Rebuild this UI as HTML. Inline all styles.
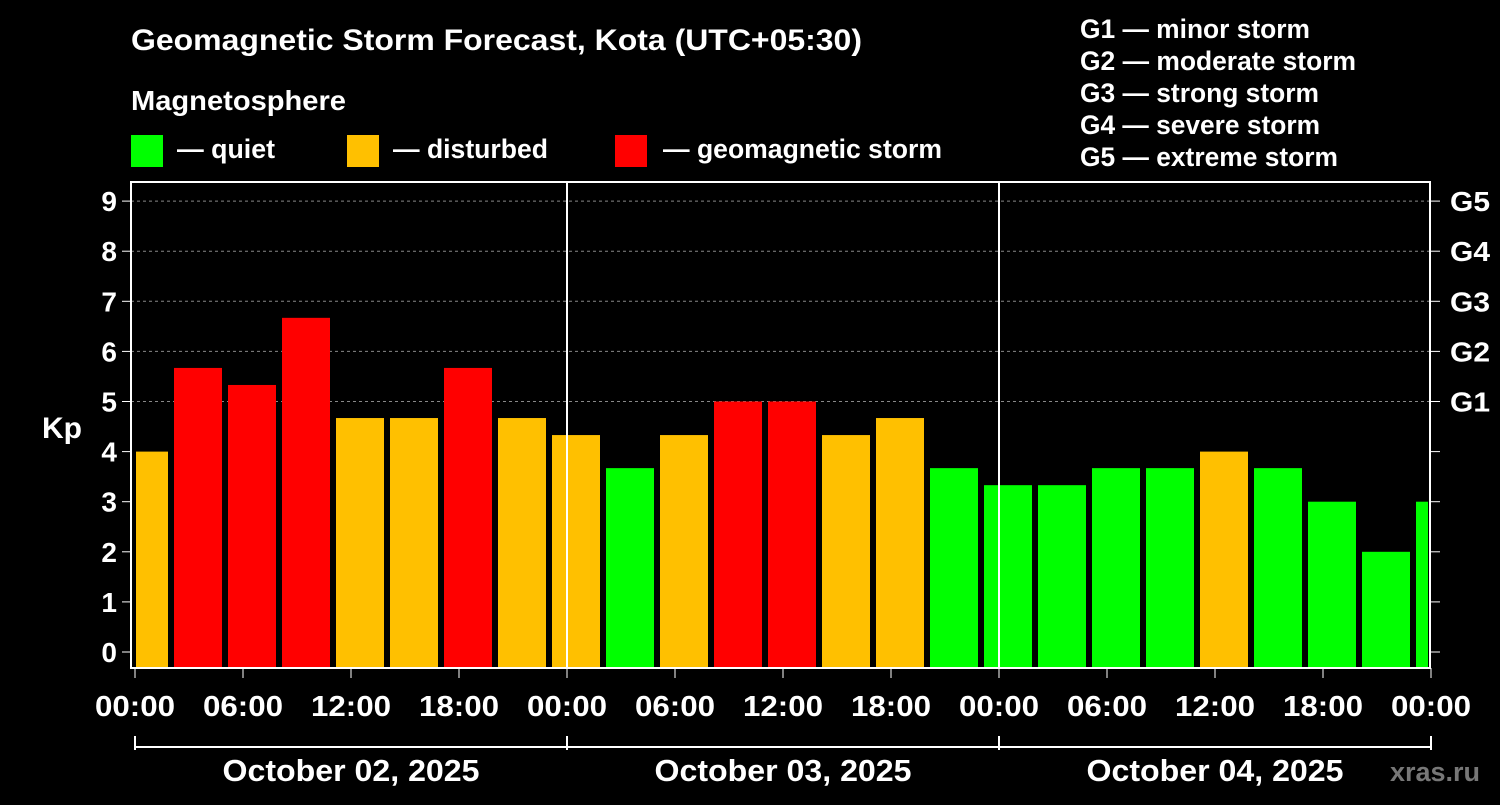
<!DOCTYPE html>
<html><head><meta charset="utf-8"><style>
body{margin:0;background:#000;width:1500px;height:800px;overflow:hidden;font-family:"Liberation Sans",Arial,sans-serif}
svg text{font-family:"Liberation Sans",Arial,sans-serif;font-weight:bold;fill:#fff}
</style></head><body>
<svg id="c" width="1500" height="800">
<text x="131" y="50" font-size="30" textLength="731" lengthAdjust="spacingAndGlyphs">Geomagnetic Storm Forecast, Kota (UTC+05:30)</text>
<text x="131" y="110" font-size="28" textLength="215" lengthAdjust="spacingAndGlyphs">Magnetosphere</text>
<g><rect x="131" y="135" width="32" height="32" fill="#00ff00"/><text x="177" y="158" font-size="27" textLength="98" lengthAdjust="spacingAndGlyphs">— quiet</text></g>
<g><rect x="347" y="135" width="32" height="32" fill="#ffc000"/><text x="393" y="158" font-size="27" textLength="155" lengthAdjust="spacingAndGlyphs">— disturbed</text></g>
<g><rect x="615" y="135" width="32" height="32" fill="#ff0000"/><text x="663" y="158" font-size="27" textLength="279" lengthAdjust="spacingAndGlyphs">— geomagnetic storm</text></g>
<g font-size="26.5">
<text x="1080" y="38" textLength="230" lengthAdjust="spacingAndGlyphs">G1 — minor storm</text><text x="1080" y="70" textLength="276" lengthAdjust="spacingAndGlyphs">G2 — moderate storm</text><text x="1080" y="102" textLength="239" lengthAdjust="spacingAndGlyphs">G3 — strong storm</text><text x="1080" y="134" textLength="240" lengthAdjust="spacingAndGlyphs">G4 — severe storm</text><text x="1080" y="166" textLength="258" lengthAdjust="spacingAndGlyphs">G5 — extreme storm</text></g>
<text x="42" y="438" font-size="30">Kp</text>
<text x="1480" y="781" font-size="27" style="fill:#777;font-weight:bold" text-anchor="end">xras.ru</text>
<g id="plot"></g>
</svg>
<script>
const kpValues=[4.0,5.67,5.33,6.67,4.67,4.67,5.67,4.67,4.33,3.67,4.33,5.0,5.0,4.33,4.67,3.67,3.33,3.33,3.67,3.67,4.0,3.67,3.0,2.0,3.0];
const barStartHours=[-1,2,5,8,11,14,17,20,23,26,29,32,35,38,41,44,47,50,53,56,59,62,65,68,71];
const yTicks=[0,1,2,3,4,5,6,7,8,9];
const gLabels=["G1","G2","G3","G4","G5"];
const xTickLabels=["00:00","06:00","12:00","18:00"];
const dateLabels=["October 02, 2025","October 03, 2025","October 04, 2025"];
const NS="http://www.w3.org/2000/svg";
const g=document.getElementById('plot');
const X0=135,PX_H=18,Y0=652,PX_K=50.1,TOP=182,BOT=668,L=131,R=1430;
const xs=h=>X0+h*PX_H, ys=k=>Y0-k*PX_K;
function mk(t,a){const e=document.createElementNS(NS,t);for(const k in a)e.setAttribute(k,a[k]);g.appendChild(e);return e;}
yTicks.forEach(k=>{
 if(k>=5){const l=mk('line',{x1:L,x2:R,y1:ys(k),y2:ys(k),stroke:'#888','stroke-dasharray':'3,3'});
 
 }
 mk('line',{x1:L-9,x2:L,y1:ys(k),y2:ys(k),stroke:'#fff','stroke-width':1});
 mk('line',{x1:R,x2:R+10,y1:ys(k),y2:ys(k),stroke:'#fff','stroke-width':1});
 const t=mk('text',{x:L-14,y:ys(k)+10,'font-size':28,'text-anchor':'end'});t.textContent=k;
 
 
});
gLabels.forEach((s,i)=>{const t=mk('text',{x:1450,y:ys(5+i)+10,'font-size':28,textLength:40,lengthAdjust:'spacingAndGlyphs'});t.textContent=s;
 
 });
kpValues.forEach((v,i)=>{
 const a=Math.max(xs(barStartHours[i])+3,X0+1), b=Math.min(xs(barStartHours[i]+3)-3,R-2);
 const c=v>=5?'#ff0000':(v>=4?'#ffc000':'#00ff00');
 const r=mk('rect',{x:a,y:ys(v),width:b-a,height:BOT-ys(v),fill:c});
 
 
});
const fr=mk('rect',{x:L,y:TOP,width:R-L,height:BOT-TOP,fill:'none',stroke:'#fff','stroke-width':2});


[24,48].forEach(h=>mk('line',{x1:xs(h),x2:xs(h),y1:TOP,y2:BOT,stroke:'#fff','stroke-width':2}));
for(let h=0;h<=72;h+=6){
 mk('line',{x1:xs(h),x2:xs(h),y1:BOT,y2:BOT+10,stroke:'#fff'});
 const t=mk('text',{x:xs(h),y:716,'font-size':29,'text-anchor':'middle',textLength:80,lengthAdjust:'spacingAndGlyphs'});t.textContent=h==72?"00:00":xTickLabels[(h/6)%4];
 
 
}
mk('line',{x1:X0,x2:R,y1:747,y2:747,stroke:'#fff','stroke-width':2});
[0,24,48,72].forEach(h=>mk('line',{x1:xs(h),x2:xs(h),y1:736,y2:750,stroke:'#fff','stroke-width':2}));
dateLabels.forEach((d,i)=>{const t=mk('text',{x:xs(i*24+12),y:781,'font-size':31,'text-anchor':'middle',textLength:257,lengthAdjust:'spacingAndGlyphs'});t.textContent=d;
 
 });
</script>
</body></html>
